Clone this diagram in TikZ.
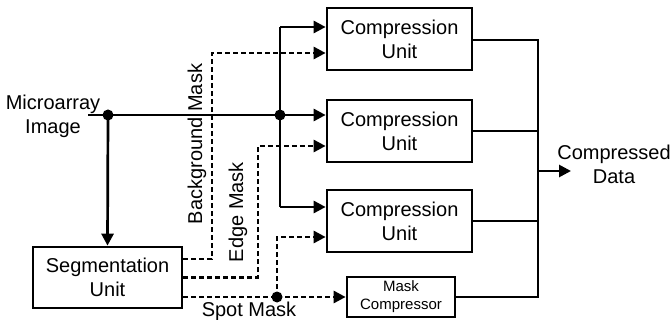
\documentclass[tikz,border=0pt]{standalone}
\usepackage{fontspec}
\setmainfont{Liberation Sans}
\usetikzlibrary{arrows.meta}
\begin{document}
\begin{tikzpicture}[x=1pt,y=-1pt,
  every node/.style={font=\fontsize{20}{24}\selectfont},
  unitbox/.style={draw,line width=2.7pt,minimum width=145pt,minimum height=62pt,inner sep=0pt,align=center},
  ln/.style={line width=2.7pt},
  arr/.style={ln,-{Triangle[length=12pt,width=12pt]}},
  dsh/.style={dash pattern=on 5pt off 3pt},
  lbl/.style={inner sep=0pt,align=center}]
\useasboundingbox (0,0) rectangle (671,320);
% boxes
\node[unitbox] (CU1) at (399.5,39) {Compression\\Unit};
\node[unitbox] (CU2) at (399.5,131) {Compression\\Unit};
\node[unitbox] (CU3) at (399.5,221) {Compression\\Unit};
\node[unitbox,minimum width=149pt,minimum height=61pt] (SU) at (107.5,277.5) {Segmentation\\Unit};
\node[unitbox,minimum width=108pt,minimum height=40pt,font=\fontsize{15}{18}\selectfont] (MC) at (401,297) {Mask\\Compressor};
% labels
\node[lbl] (MI) at (53,116) {Microarray\\Image};
\node[lbl] (CD) at (614,164) {Compressed\\Data};
\node[lbl,rotate=90] (BM) at (197,144) {Background Mask};
\node[lbl,rotate=90] (EM) at (238,212) {Edge Mask};
\node[lbl] (SM) at (249,311) {Spot Mask};
% input bus
\coordinate (in) at (88,115);
\coordinate (j1) at (108,115);
\coordinate (j2) at (280,115);
\coordinate (bt) at (280,27);
\coordinate (bb) at (280,207);
\draw[ln] (in) -- (j2);
\draw[arr] (j2) -- (CU2.west |- j2);
\draw[arr] (j1) -- (SU.north);
\draw[ln] (bt) -- (bb);
\draw[arr] (bt) -- (CU1.west |- bt);
\draw[arr] (bb) -- (CU3.west |- bb);
\fill (j1) circle (5.5pt);
\fill (j2) circle (5.5pt);
% masks
\coordinate (bm) at (212,53);
\coordinate (em) at (258,146);
\coordinate (sp) at (277,237);
\draw[arr,dsh] ([yshift=18.5pt]SU.east) -| (bm) -- (CU1.west |- bm);
\draw[arr,dsh] (SU.east) -| (em) -- (CU2.west |- em);
\coordinate (sd) at ([yshift=-19.5pt]SU.east -| sp);
\draw[ln,dsh] ([yshift=-19.5pt]SU.east) -- (sd);
\draw[arr,dsh] (sd) -- (MC.west);
\draw[arr,dsh] (sd) -- (sp) -- (CU3.west |- sp);
\fill (sd) circle (5.5pt);
% outputs
\coordinate (o1) at (538,40);
\coordinate (o4) at (538,297);
\coordinate (om) at (538,171);
\coordinate (oe) at (571,171);
\draw[ln] (CU1.east |- o1) -- (o1) -- (o4) -- (MC.east);
\draw[ln] (CU2.east) -- (CU2.east -| o1);
\draw[ln] (CU3.east) -- (CU3.east -| o1);
\draw[arr] (om) -- (oe);
\end{tikzpicture}
\end{document}
